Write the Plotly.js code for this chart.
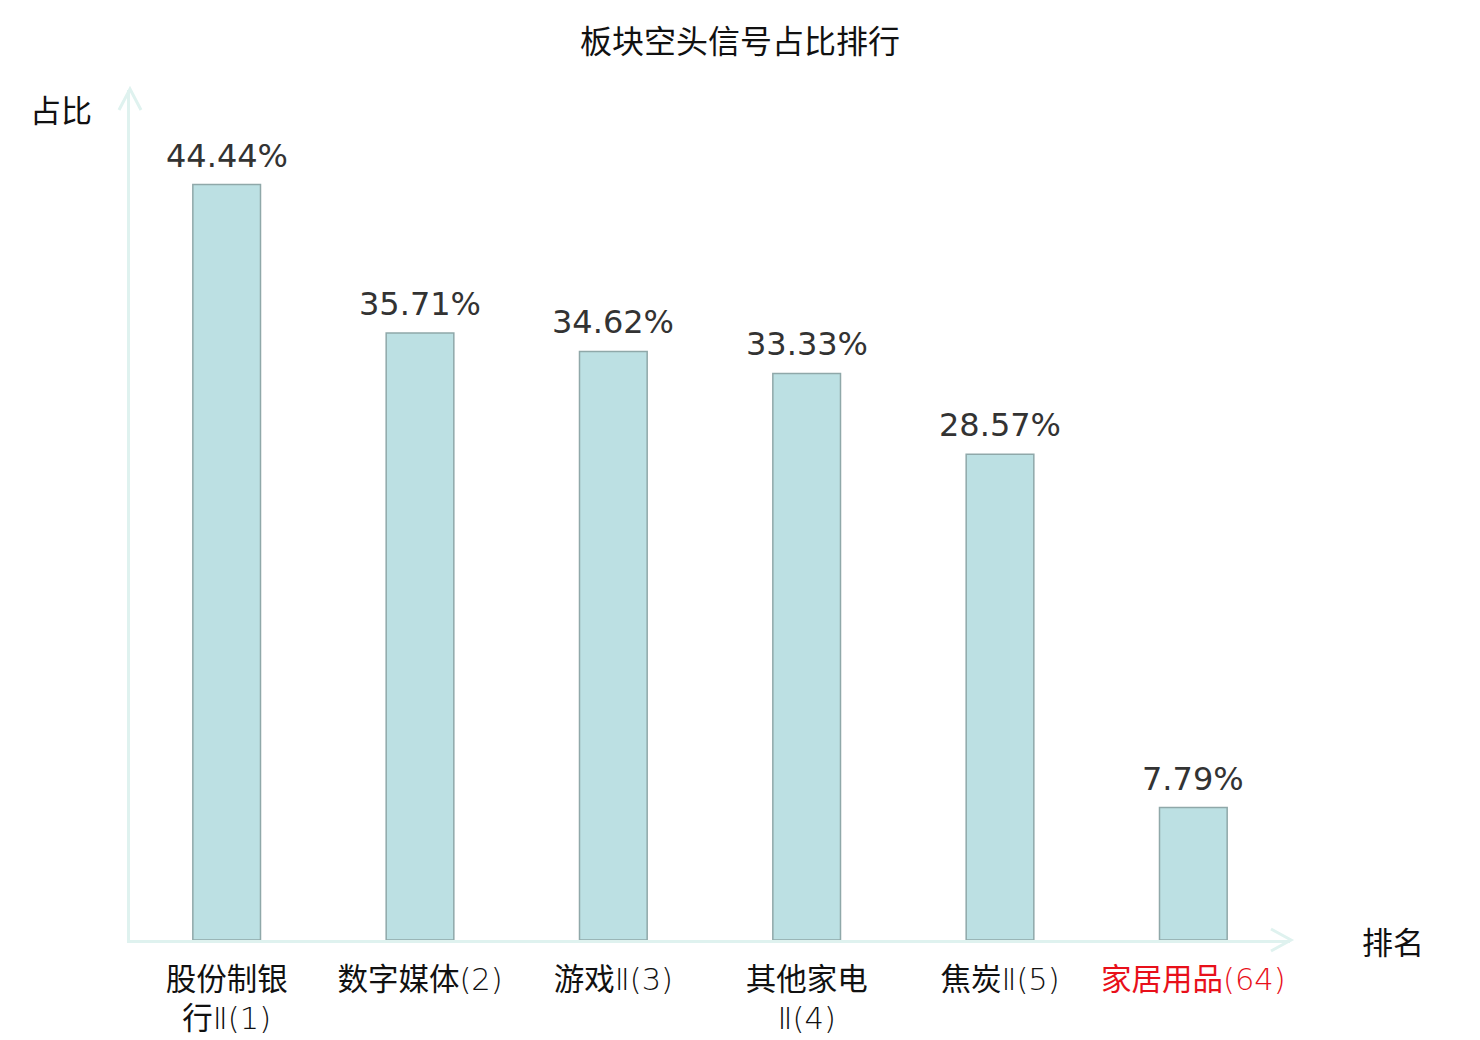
<!DOCTYPE html>
<html>
<head>
<meta charset="utf-8">
<script src="https://cdn.plot.ly/plotly-3.0.1.min.js"></script>
<style>
  html, body { margin: 0; padding: 0; background: #fff; }
  #grafica { width: 1480px; height: 1040px; }
</style>
</head>
<body>
<div id="grafica"></div>
<script>
// datos del gráfico
const sectores = ['股份制银行Ⅱ(1)', '数字媒体(2)', '游戏Ⅱ(3)', '其他家电Ⅱ(4)', '焦炭Ⅱ(5)', '家居用品(64)'];
// los números y la Ⅱ de las etiquetas van en trazo fino
const fino = '<span style="font-family:DejaVu Sans;font-weight:200">';
const etiquetasEje = ['股份制银<br>行' + fino + 'Ⅱ(1)</span>', '数字媒体' + fino + '(2)</span>', '游戏' + fino + 'Ⅱ(3)</span>',
    '其他家电<br>' + fino + 'Ⅱ(4)</span>', '焦炭' + fino + 'Ⅱ(5)</span>', '<span style="color:#e8101a">家居用品' + fino + '(64)</span></span>'];
const porcentajes = [44.44, 35.71, 34.62, 33.33, 28.57, 7.79];

const colorEje = '#dff2ef';
const fuenteCJK = '"Noto Sans CJK SC", "Noto Sans", sans-serif';

const traza = {
    x: sectores,
    y: porcentajes,
    type: 'bar',
    width: 0.35,
    marker: { color: '#bce0e3', line: { color: '#8fa8a9', width: 1.5 } },
    hoverinfo: 'x+y'
};

// etiquetas de valor encima de cada barra
const etiquetasValor = sectores.map((s, i) => ({
    x: s, y: porcentajes[i], xref: 'x', yref: 'y',
    text: porcentajes[i].toFixed(2) + '%',
    showarrow: false, yanchor: 'middle', yshift: 29,
    font: { family: '"DejaVu Sans", sans-serif', size: 32, color: '#333333' }
}));

const layout = {
    width: 1480,
    height: 1040,
    margin: { l: 130, r: 190, t: 90, b: 100 },
    paper_bgcolor: '#ffffff',
    plot_bgcolor: '#ffffff',
    showlegend: false,
    font: { family: fuenteCJK, color: '#111111' },
    title: {
        text: '板块空头信号占比排行',
        font: { family: fuenteCJK, size: 32, color: '#111111' },
        x: 0.5, xref: 'container', xanchor: 'center',
        y: 1 - 42 / 1040, yref: 'container', yanchor: 'middle'
    },
    xaxis: {
        tickmode: 'array',
        tickvals: sectores,
        ticktext: etiquetasEje,
        tickfont: { family: fuenteCJK, size: 30.5, color: '#111111' },
        ticks: 'outside', ticklen: 10, tickcolor: 'rgba(0,0,0,0)',
        showline: true, linecolor: colorEje, linewidth: 3,
        showgrid: false, zeroline: false, fixedrange: true
    },
    yaxis: {
        range: [0, 50],
        showticklabels: false,
        ticks: '',
        showline: true, linecolor: colorEje, linewidth: 3,
        showgrid: false, zeroline: false, fixedrange: true
    },
    // flechas de los ejes
    shapes: [
        {
            type: 'path', xref: 'paper', yref: 'paper',
            xsizemode: 'pixel', ysizemode: 'pixel', xanchor: 0, yanchor: 1,
            path: 'M-11,-20 L0,1 L11,-20',
            line: { color: colorEje, width: 3 }
        },
        {
            type: 'path', xref: 'paper', yref: 'paper',
            xsizemode: 'pixel', ysizemode: 'pixel', xanchor: 1, yanchor: 0,
            path: 'M-19,11 L1,0 L-19,-11',
            line: { color: colorEje, width: 3 }
        }
    ],
    annotations: etiquetasValor.concat([
        {
            text: '占比', xref: 'paper', yref: 'paper', x: 0, y: 1,
            xanchor: 'right', yanchor: 'middle', xshift: -36, yshift: -18,
            showarrow: false, font: { family: fuenteCJK, size: 31, color: '#111111' }
        },
        {
            text: '排名', xref: 'paper', yref: 'paper', x: 1, y: 0,
            xanchor: 'left', yanchor: 'middle', xshift: 70, yshift: 0,
            showarrow: false, font: { family: fuenteCJK, size: 31, color: '#111111' }
        }
    ])
};

Plotly.newPlot('grafica', [traza], layout, { displayModeBar: false, staticPlot: true });
</script>
</body>
</html>
